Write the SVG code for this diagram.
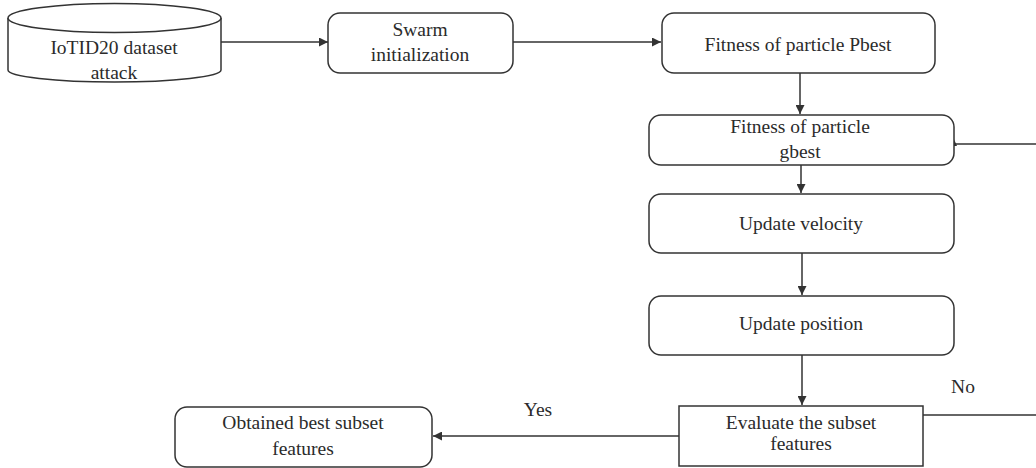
<svg xmlns="http://www.w3.org/2000/svg" width="1036" height="468" viewBox="0 0 1036 468">
  <style>
    .box { fill: #ffffff; stroke: #333333; stroke-width: 1.5; }
    .lbl { font-family: "Liberation Serif", "Times New Roman", serif; font-size: 19.5px; fill: #2b2b2b; text-anchor: middle; }
    .edge { fill: none; stroke: #333333; stroke-width: 1.5; }
  </style>
  <defs>
    <marker id="arrow" viewBox="0 0 10 10" refX="10" refY="5" markerWidth="9" markerHeight="9" markerUnits="userSpaceOnUse" orient="auto">
      <path d="M0,0 L10,5 L0,10 Z" fill="#333333"/>
    </marker>
  </defs>

  <rect width="1036" height="468" fill="#ffffff"/>

  <!-- Connectors -->
  <g id="connectors">
    <line class="edge" x1="221" y1="42" x2="328" y2="42" marker-end="url(#arrow)"/>
    <line class="edge" x1="513" y1="42" x2="661" y2="42" marker-end="url(#arrow)"/>
    <line class="edge" x1="800" y1="73" x2="800" y2="114" marker-end="url(#arrow)"/>
    <line class="edge" x1="801" y1="165" x2="801" y2="193" marker-end="url(#arrow)"/>
    <line class="edge" x1="802" y1="253" x2="802" y2="295" marker-end="url(#arrow)"/>
    <line class="edge" x1="802" y1="355" x2="802" y2="405" marker-end="url(#arrow)"/>
    <line class="edge" x1="679" y1="436" x2="433" y2="436" marker-end="url(#arrow)"/>
    <!-- "No" loop back to gbest -->
    <line class="edge" x1="923" y1="415" x2="1036" y2="415"/>
    <line class="edge" x1="1036" y1="144" x2="955" y2="144"/>
    <path d="M953,137 L957,146 L949,146 Z" fill="#333333"/>
    <text class="lbl" x="538" y="416">Yes</text>
    <text class="lbl" x="963" y="393">No</text>
  </g>

  <!-- Dataset cylinder -->
  <g id="dataset">
    <path class="box" d="M8,18 L8,70 A106.5,12 0 0 0 221,70 L221,18"/>
    <ellipse class="box" cx="114.5" cy="18" rx="106.5" ry="14.5"/>
    <text class="lbl" x="114" y="54">IoTID20 dataset</text>
    <text class="lbl" x="114" y="79">attack</text>
  </g>

  <g id="swarm-init">
    <rect class="box" x="328" y="13" width="185" height="60" rx="12"/>
    <text class="lbl" x="420" y="36">Swarm</text>
    <text class="lbl" x="420" y="61">initialization</text>
  </g>

  <g id="fitness-pbest">
    <rect class="box" x="662" y="13" width="273" height="60" rx="12"/>
    <text class="lbl" x="798" y="51">Fitness of particle Pbest</text>
  </g>

  <g id="fitness-gbest">
    <rect class="box" x="649" y="115" width="305" height="50" rx="12"/>
    <text class="lbl" x="800" y="133">Fitness of particle</text>
    <text class="lbl" x="800" y="158">gbest</text>
  </g>

  <g id="update-velocity">
    <rect class="box" x="649" y="194" width="305" height="59" rx="12"/>
    <text class="lbl" x="801" y="230">Update velocity</text>
  </g>

  <g id="update-position">
    <rect class="box" x="649" y="296" width="305" height="59" rx="12"/>
    <text class="lbl" x="801" y="330">Update position</text>
  </g>

  <g id="evaluate">
    <rect class="box" x="679" y="406" width="244" height="60"/>
    <text class="lbl" x="801" y="429">Evaluate the subset</text>
    <text class="lbl" x="801" y="450">features</text>
  </g>

  <g id="best-subset">
    <rect class="box" x="175" y="407" width="257" height="60" rx="12"/>
    <text class="lbl" x="303" y="429">Obtained best subset</text>
    <text class="lbl" x="303" y="455">features</text>
  </g>
</svg>
